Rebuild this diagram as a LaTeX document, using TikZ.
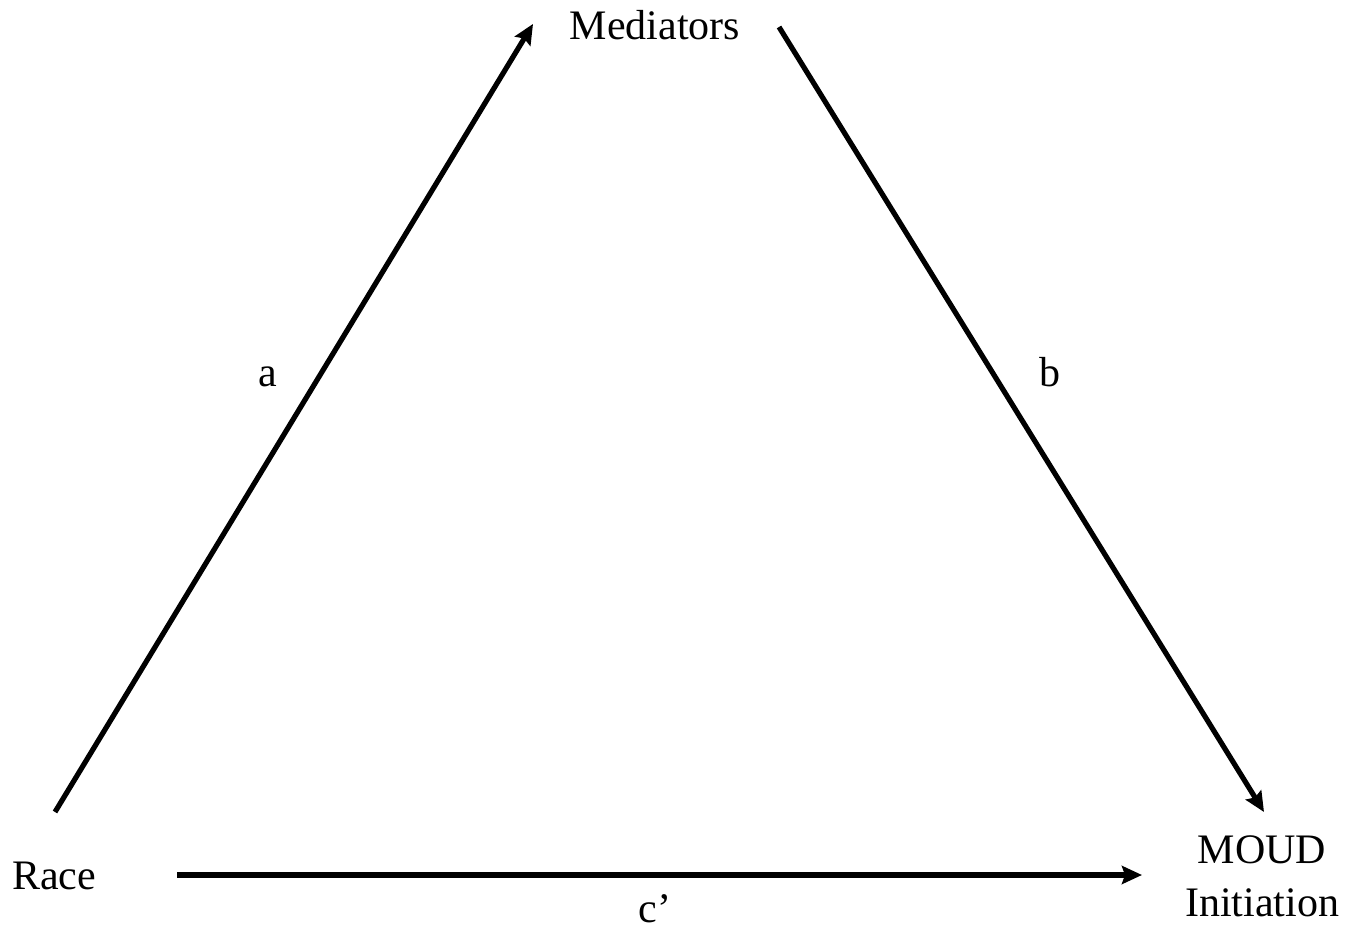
\documentclass[tikz,border=0pt]{standalone}
\usepackage{fontspec}
\setmainfont{Liberation Serif}
\usetikzlibrary{arrows.meta}

\begin{document}
\begin{tikzpicture}[x=0.5pt,y=-0.5pt,
  lbl/.style={font=\fontsize{21}{26.5}\selectfont,inner sep=0pt},
  path/.style={line width=2.6pt,-{Stealth[length=10pt,width=9pt,inset=1.5pt]}}]
				\useasboundingbox (0,0) rectangle (1364,929);
				\node[lbl,anchor=base] (med) at (655,40) {Mediators};
				\node[lbl,anchor=base] (race) at (54,889) {Race};
				\node[lbl,align=center] (moud) at (1262,876) {MOUD\\Initiation};
				% path ends
				\coordinate (a0) at (55,812);
				\coordinate (a1) at (533,24);
				\coordinate (b0) at (779,27);
				\coordinate (b1) at (1264,812);
				\coordinate (c0) at (177,875);
				\coordinate (c1) at (1142,875);
				\draw[path] (a0) -- (a1);
				\draw[path] (b0) -- (b1);
				\draw[path] (c0) -- (c1);
				\node[lbl,anchor=base] (la) at (268,387) {a};
				\node[lbl,anchor=base] (lb) at (1050,387) {b};
				\node[lbl,anchor=base] (lc) at (655,922) {c’};
			\end{tikzpicture}
\end{document}
